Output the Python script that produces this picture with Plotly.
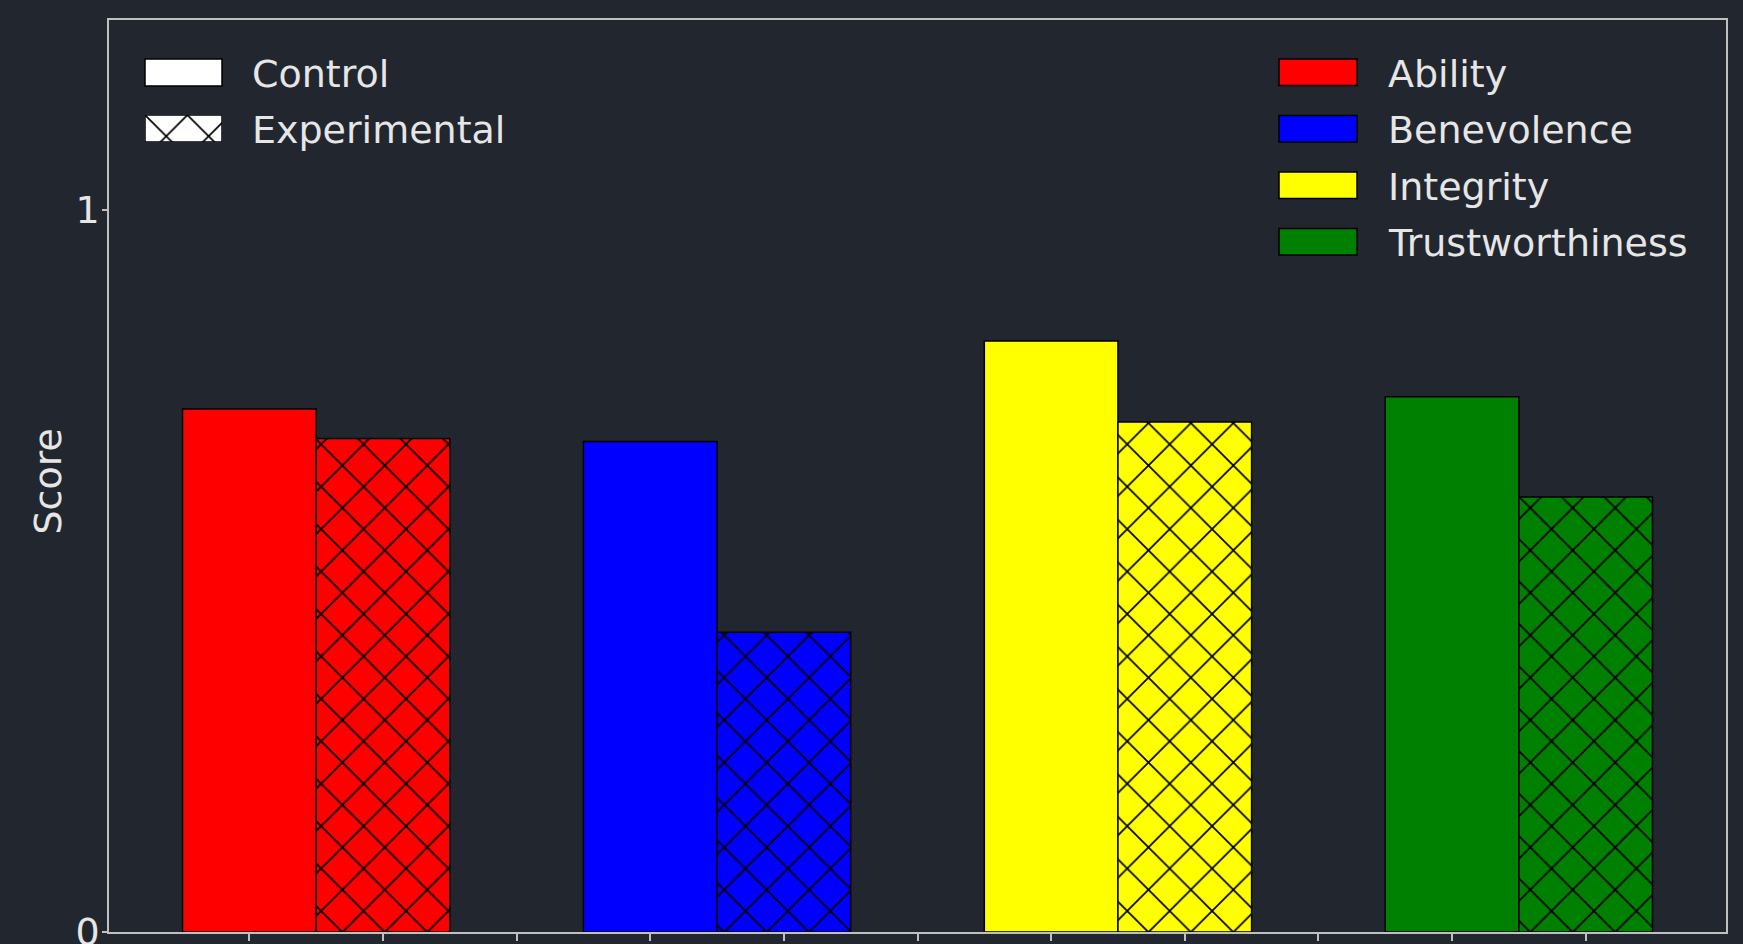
import plotly.graph_objects as go

categories = ["Ability", "Benevolence", "Integrity", "Trustworthiness"]
colors = ["#ff0000", "#0000ff", "#ffff00", "#008000"]
control = [0.724, 0.679, 0.818, 0.741]
experimental = [0.683, 0.415, 0.706, 0.602]
group_labels = ["Control", "Experimental"]
ytick_vals = [0, 1]
ytick_text = ["0", "1"]

W, H = 1743, 944
ML, MR, MT, MB = 109, 17, 20, 12
PW, PH = W - ML - MR, H - MT - MB

BG = "#22262e"
FG = "#e6e6e6"
SPINE = "#c0c0c0"
FONT = "DejaVu Sans"
FS = 38
HATCH_SIZE = 30
HATCH_SOLIDITY = 0.11


def px(xp):
    return (xp - ML) / PW


def py(yp):
    return (H - MB - yp) / PH


def hatch(bg):
    return dict(shape="x", fillmode="replace", fgcolor="black", bgcolor=bg,
                fgopacity=1, size=HATCH_SIZE, solidity=HATCH_SOLIDITY)


ctrl_x = [3 * i for i in range(len(categories))]
exp_x = [3 * i + 1 for i in range(len(categories))]

fig = go.Figure()
fig.add_trace(go.Bar(
    x=ctrl_x, y=control, width=1,
    marker=dict(color=colors, line=dict(color="black", width=1.5)),
    showlegend=False, name="Control",
))
for i, cat in enumerate(categories):
    fig.add_trace(go.Bar(
        x=[exp_x[i]], y=[experimental[i]], width=1,
        marker=dict(color=colors[i], line=dict(color="black", width=1.5),
                    pattern=hatch(colors[i])),
        showlegend=False, name=f"Experimental – {cat}",
    ))

# hatched legend swatch drawn as a tiny bar on an overlay axis
sx0, sx1, sy0, sy1 = 145, 222, 115, 142
fig.add_trace(go.Bar(
    x=[0.5], y=[1], width=1, xaxis="x2", yaxis="y2",
    marker=dict(color="white", line=dict(color="black", width=1.5),
                pattern=hatch("white")),
    showlegend=False, hoverinfo="skip",
))

shapes = []
annotations = []

# left legend: Control swatch
shapes.append(dict(type="rect", xref="paper", yref="paper",
                   x0=px(145), x1=px(222), y0=py(86), y1=py(59),
                   fillcolor="white", line=dict(color="black", width=1.5)))
for lbl, yc in zip(group_labels, [73.5, 130]):
    annotations.append(dict(xref="paper", yref="paper", x=px(250), y=py(yc),
                            xanchor="left", yanchor="middle", text=lbl,
                            showarrow=False, font=dict(family=FONT, size=FS, color=FG)))

# right legend: categories
for i, (cat, col) in enumerate(zip(categories, colors)):
    yc = 72.3 + 56.5 * i
    shapes.append(dict(type="rect", xref="paper", yref="paper",
                       x0=px(1279), x1=px(1357), y0=py(yc + 13.3), y1=py(yc - 13.3),
                       fillcolor=col, line=dict(color="black", width=1.5)))
    annotations.append(dict(xref="paper", yref="paper", x=px(1386), y=py(yc + 1.5),
                            xanchor="left", yanchor="middle", text=cat,
                            showarrow=False, font=dict(family=FONT, size=FS, color=FG)))

# y-axis title
annotations.append(dict(xref="paper", yref="paper", x=px(48), y=py(481.5),
                        xanchor="center", yanchor="middle", text="Score", textangle=-90,
                        showarrow=False, font=dict(family=FONT, size=FS, color=FG)))

fig.update_layout(
    width=W, height=H,
    margin=dict(l=ML, r=MR, t=MT, b=MB, pad=0, autoexpand=False),
    paper_bgcolor=BG, plot_bgcolor=BG,
    font=dict(family=FONT, size=FS, color=FG),
    barmode="overlay",
    showlegend=False,
    xaxis=dict(range=[-1.05, 11.05], tickvals=list(range(11)), showticklabels=False,
               ticks="outside", ticklen=7, tickwidth=1.5, tickcolor=SPINE,
               showline=True, linecolor=SPINE, linewidth=1.5, mirror=True,
               showgrid=False, zeroline=False, automargin=False),
    yaxis=dict(range=[0, 912 / 722.5], tickvals=ytick_vals, ticktext=ytick_text,
               ticks="outside", ticklen=5, tickwidth=1.5, tickcolor=SPINE,
               ticklabelstandoff=-5, ticklabeloverflow="allow",
               showline=True, linecolor=SPINE, linewidth=1.5, mirror=True,
               showgrid=False, zeroline=False, automargin=False,
               tickfont=dict(family=FONT, size=FS, color=FG)),
    xaxis2=dict(domain=[px(sx0), px(sx1)], range=[0, 1], anchor="y2", visible=False,
                fixedrange=True),
    yaxis2=dict(domain=[py(sy1), py(sy0)], range=[0, 1], anchor="x2", visible=False,
                fixedrange=True),
    shapes=shapes,
    annotations=annotations,
)

fig.write_html(
    "out.html",
    config={"displayModeBar": False},
    post_script=(
        "document.documentElement.style.margin='0';"
        "document.body.style.margin='0';"
        "document.body.style.overflow='hidden';"
        "document.body.style.background='" + BG + "';"
    ),
)
